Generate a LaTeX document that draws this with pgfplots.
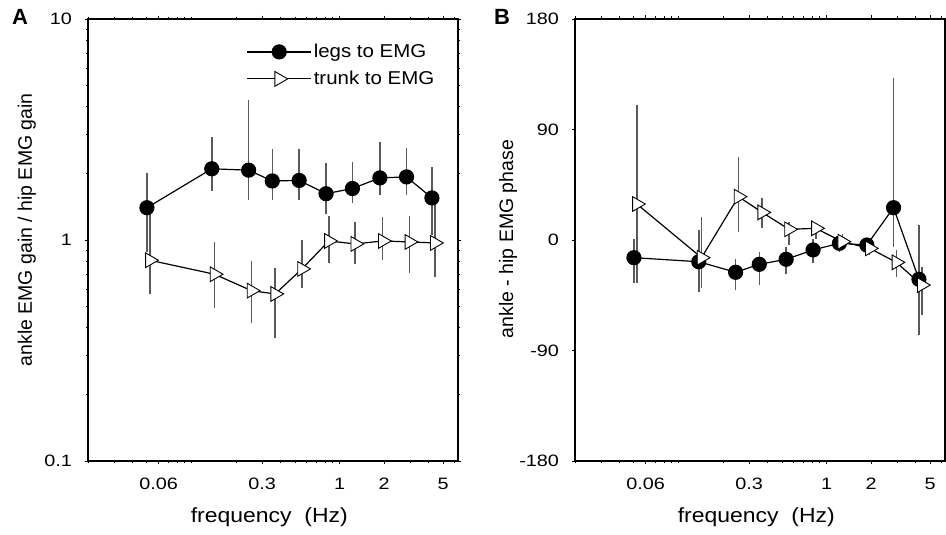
\documentclass[border=0pt]{standalone}
\usepackage{fontspec}
\setmainfont{Liberation Sans}
\newfontfamily\tickfont{Liberation Sans}[FakeStretch=1.2]
\newfontfamily\legfont{Liberation Sans}[FakeStretch=1.1]
\newfontfamily\xlabfont{Liberation Sans}[FakeStretch=1.12]
\usepackage{pgfplots}
\pgfplotsset{compat=1.18}
\usepackage{pgfplotstable}

\pgfplotstableread{
x y ep em
0.05 1.40 0.62 0.52
0.137 2.10 0.83 0.44
0.243 2.07 2.23 0.55
0.351 1.85 0.72 0.33
0.533 1.86 0.71 0.34
0.81 1.62 0.60 0.31
1.22 1.71 0.54 0.24
1.87 1.91 0.87 0.32
2.83 1.93 0.68 0.34
4.2 1.55 0.59 0.50
}\legsgain

\pgfplotstableread{
x y ep em
0.0523 0.81 0.54 0.24
0.143 0.70 0.28 0.21
0.254 0.59 0.21 0.17
0.367 0.57 0.18 0.21
0.557 0.74 0.26 0.135
0.846 0.99 0.30 0.20
1.275 0.96 0.24 0.18
1.954 0.99 0.28 0.18
2.957 0.98 0.31 0.27
4.39 0.97 0.53 0.29
}\trunkgain

\pgfplotstableread{
x y ep em
0.05 -14.4 14.9 20.9
0.137 -17.7 25.8 24.3
0.243 -26.3 10.6 14.4
0.351 -19.8 10.3 16.9
0.533 -15.7 10.3 12.0
0.81 -8.1 8.6 10.9
1.22 -2.7 6.7 6.8
1.87 -4.1 5.7 3.9
2.83 26.3 105.3 31.7
4.2 -32.0 44.2 45.4
}\legsphase

\pgfplotstableread{
x y ep em
0.0523 29.3 80.7 64.3
0.143 -14.4 32.9 24.6
0.254 35.3 32.6 28.5
0.367 22.5 11.5 12.5
0.557 8.7 6.2 12.7
0.846 9.5 4.1 9.0
1.275 -1.4 6.0 6.6
1.954 -6.8 6.3 5.2
2.957 -18.2 10.1 11.7
4.39 -36.7 15.0 24.3
}\trunkphase

\begin{document}
\begin{tikzpicture}
\useasboundingbox (0,0) rectangle (946pt,535pt);

\begin{axis}[scale only axis, width=370pt, height=442pt,
  at={(88pt,74pt)}, anchor=south west,
  xmode=log, xmin=0.02, xmax=6.3,
  xtick={0.06,0.3,1,2,5}, xticklabels={0.06,0.3,1,2,5},
  minor xtick={0.02,0.03,0.04,0.05,0.07,0.08,0.09,0.1,0.2,0.4,0.5,0.6,0.7,0.8,0.9,3,4,6},
  ymode=log, ymin=0.1, ymax=10,
  ytick={0.1,1,10}, yticklabels={0.1,1,10},
  minor ytick={0.2,0.3,0.4,0.5,0.6,0.7,0.8,0.9,2,3,4,5,6,7,8,9},
  tick align=outside, major tick length=3.5pt, minor tick length=2.5pt,
  axis line style={line width=1.4pt},
  every tick/.append style={black, line width=0.9pt},
  tick label style={font=\tickfont\fontsize{16.5}{16}\selectfont},
  /pgf/number format/assume math mode=true,
  xlabel={frequency\ \ (Hz)},
  xlabel style={font=\xlabfont\fontsize{20.5}{21}\selectfont, at={(axis description cs:0.49,-0.127)}, anchor=center},
  xticklabel style={yshift=-10pt},
  yticklabel style={xshift=-9pt},
  ylabel={ankle EMG gain / hip EMG gain},
  ylabel style={font=\fontsize{19.5}{20}\selectfont, at={(axis description cs:-0.165,0.523)}, anchor=center},
  legend style={draw=none, fill=none, at={(0.42,0.952)}, anchor=north west,
    font=\legfont\fontsize{18.6}{19}\selectfont, row sep=8pt},
  legend cell align=left,
  legend image code/.code={\draw[mark repeat=2, mark phase=2, #1] plot coordinates {(0pt,0pt) (32pt,0pt) (64pt,0pt)};},
  clip=false,
]
\addplot[black, line width=1.2pt, mark=*, mark size=7pt,
    mark options={solid, fill=black},
    error bars/.cd, y dir=both, y explicit, error mark=none,
    error bar style={line width=1.5pt, black!65}]
    table[x=x, y=y, y error plus=ep, y error minus=em] {\legsgain};
\addlegendentry{legs to EMG}
\addplot[black, line width=1.2pt, mark=triangle*, mark size=8.5pt,
    mark options={solid, rotate=-90, fill=white, draw=black, line width=0.9pt},
    error bars/.cd, y dir=both, y explicit, error mark=none,
    error bar style={line width=1.5pt, black!65}]
    table[x=x, y=y, y error plus=ep, y error minus=em] {\trunkgain};
\addlegendentry{trunk to EMG}
\end{axis}

\begin{axis}[scale only axis, width=370pt, height=442pt,
  at={(575pt,74pt)}, anchor=south west,
  xmode=log, xmin=0.02, xmax=6.3,
  xtick={0.06,0.3,1,2,5}, xticklabels={0.06,0.3,1,2,5},
  minor xtick={0.02,0.03,0.04,0.05,0.07,0.08,0.09,0.1,0.2,0.4,0.5,0.6,0.7,0.8,0.9,3,4,6},
  ymin=-180, ymax=180,
  ytick={-180,-90,0,90,180}, yticklabels={-180,-90,0,90,180},
  tick align=outside, major tick length=3.5pt, minor tick length=2.5pt,
  axis line style={line width=1.4pt},
  every tick/.append style={black, line width=0.9pt},
  tick label style={font=\tickfont\fontsize{16.5}{16}\selectfont},
  /pgf/number format/assume math mode=true,
  xlabel={frequency\ \ (Hz)},
  xlabel style={font=\xlabfont\fontsize{20.5}{21}\selectfont, at={(axis description cs:0.49,-0.127)}, anchor=center},
  xticklabel style={yshift=-10pt},
  yticklabel style={xshift=-9pt},
  ylabel={ankle - hip EMG phase},
  ylabel style={font=\fontsize{19.5}{20}\selectfont, at={(axis description cs:-0.181,0.502)}, anchor=center},
  clip=false,
]
\addplot[black, line width=1.2pt, mark=*, mark size=7pt,
    mark options={solid, fill=black},
    error bars/.cd, y dir=both, y explicit, error mark=none,
    error bar style={line width=1.5pt, black!65}]
    table[x=x, y=y, y error plus=ep, y error minus=em] {\legsphase};
\addplot[black, line width=1.2pt, mark=triangle*, mark size=8.5pt,
    mark options={solid, rotate=-90, fill=white, draw=black, line width=0.9pt},
    error bars/.cd, y dir=both, y explicit, error mark=none,
    error bar style={line width=1.5pt, black!65}]
    table[x=x, y=y, y error plus=ep, y error minus=em] {\trunkphase};
\end{axis}

\node[font=\bfseries\fontsize{22}{22}\selectfont, anchor=north west, inner sep=0pt] at (12pt,526pt) {A};
\node[font=\bfseries\fontsize{22}{22}\selectfont, anchor=north west, inner sep=0pt] at (494pt,526pt) {B};
\end{tikzpicture}
\end{document}
